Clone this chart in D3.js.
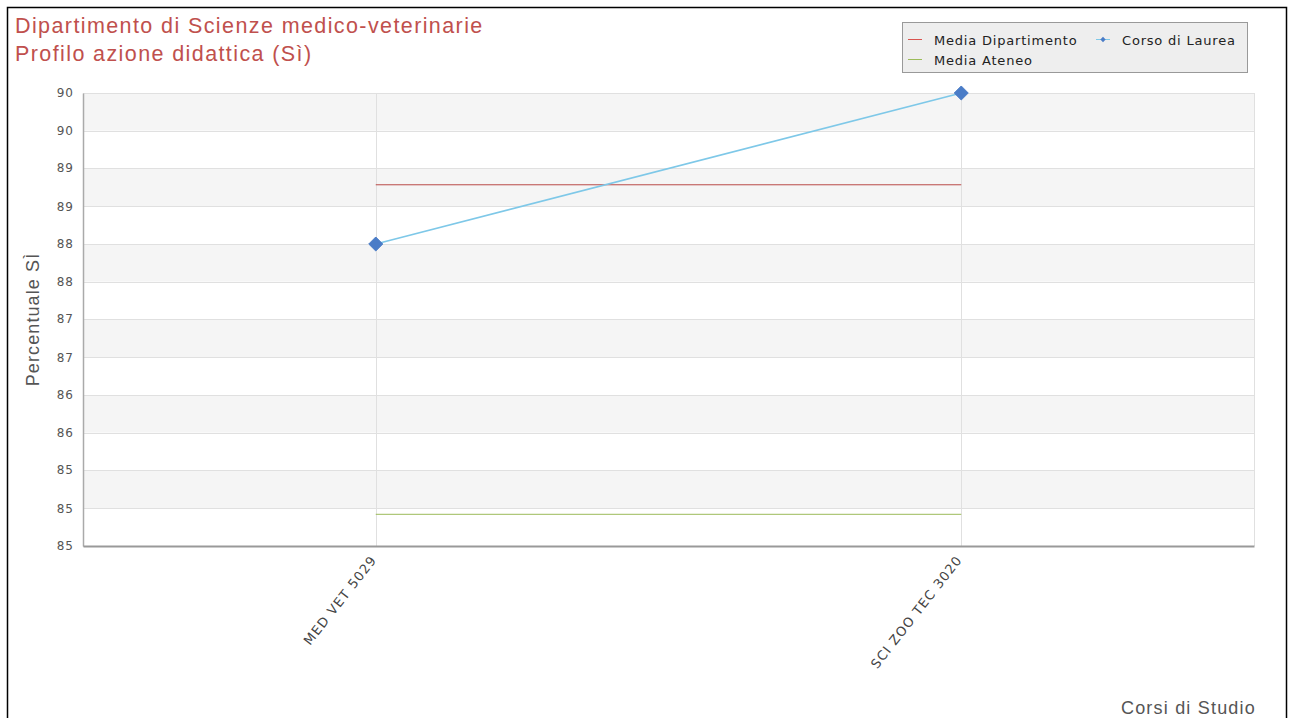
<!DOCTYPE html>
<html>
<head>
<meta charset="utf-8">
<script src="https://cdn.jsdelivr.net/npm/d3@7"></script>
<style>
  html, body { margin: 0; padding: 0; background: #fff; }
  svg { display: block; }
</style>
</head>
<body>
<script>
// Courses on the x axis
const categories = ["MED VET 5029", "SCI ZOO TEC 3020"];
// Percentage of "Sì" answers per course
const corsoValues = [88.19, 90.0];
// Reference averages, drawn as flat lines across the courses
const mediaDipartimento = [88.90, 88.90];
const mediaAteneo = [84.95, 84.95];
// Value axis range and ticks (labels shown rounded to units)
const yDomain = [84.57, 90.0];
const yTickValues = [84.57, 85.02, 85.48, 85.93, 86.38, 86.83, 87.29, 87.74, 88.19, 88.64, 89.10, 89.55, 90.0];
const yTickLabels = ["85", "85", "85", "86", "86", "87", "87", "88", "88", "89", "89", "90", "90"];

const W = 1291, H = 718;
const plot = { left: 83, right: 1254, top: 93, bottom: 546 };
const SANS = "Liberation Sans, Arial, sans-serif";

const svg = d3.select("body").append("svg").attr("width", W).attr("height", H);

// outer frame
svg.append("rect").attr("x", 7.5).attr("y", 7.5).attr("width", 1279).attr("height", 720)
  .attr("fill", "#fff").attr("stroke", "#000").attr("stroke-width", 1.5);

const x = d3.scalePoint().domain(categories).range([plot.left, plot.right]).padding(0.5);
const y = d3.scaleLinear().domain(yDomain).range([plot.bottom, plot.top]);

// alternating horizontal bands
const bands = svg.append("g");
for (let i = 1; i < yTickValues.length - 1; i += 2) {
  bands.append("rect")
    .attr("x", plot.left).attr("width", plot.right - plot.left)
    .attr("y", y(yTickValues[i + 1])).attr("height", y(yTickValues[i]) - y(yTickValues[i + 1]))
    .attr("fill", "#f5f5f5");
}

// horizontal grid lines
svg.append("g").selectAll("line").data(yTickValues).join("line")
  .attr("x1", plot.left).attr("x2", plot.right)
  .attr("y1", d => Math.round(y(d)) + 0.5).attr("y2", d => Math.round(y(d)) + 0.5)
  .attr("stroke", "#e0e0e0").attr("stroke-width", 1);

// vertical grid lines at categories
svg.append("g").selectAll("line").data(categories).join("line")
  .attr("x1", d => Math.round(x(d)) + 0.5).attr("x2", d => Math.round(x(d)) + 0.5)
  .attr("y1", plot.top).attr("y2", plot.bottom)
  .attr("stroke", "#e0e0e0").attr("stroke-width", 1);

// right border of plot area
svg.append("line").attr("x1", plot.right + 0.5).attr("x2", plot.right + 0.5)
  .attr("y1", plot.top).attr("y2", plot.bottom).attr("stroke", "#e0e0e0");

// y axis
const yAxis = d3.axisLeft(y).tickValues(yTickValues).tickSize(0).tickPadding(9)
  .tickFormat((d, i) => yTickLabels[i]);
const gy = svg.append("g").attr("transform", `translate(${plot.left},0)`).call(yAxis);
gy.select(".domain").attr("stroke", "#aaa").attr("stroke-width", 1.5);
gy.selectAll(".tick text").attr("font-family", "DejaVu Sans").attr("font-size", 12)
  .attr("letter-spacing", 1).attr("fill", "#555");

// x axis
const xAxis = d3.axisBottom(x).tickSize(0).tickPadding(0);
const gx = svg.append("g").attr("transform", `translate(0,${plot.bottom})`).call(xAxis);
gx.select(".domain").attr("stroke", "#999").attr("stroke-width", 2);
gx.selectAll(".tick text")
  .attr("font-family", "DejaVu Sans").attr("font-size", 13).attr("fill", "#444")
  .attr("letter-spacing", 1.1)
  .attr("text-anchor", "end").attr("dy", 0).attr("y", 0)
  .attr("transform", "translate(1,14) rotate(-52)");

// flat average lines
const lineGen = d3.line().x((d, i) => x(categories[i])).y(d => y(d));
svg.append("path").datum(mediaDipartimento).attr("d", lineGen)
  .attr("fill", "none").attr("stroke", "#b94a48").attr("stroke-width", 1);
svg.append("path").datum(mediaAteneo).attr("d", lineGen)
  .attr("fill", "none").attr("stroke", "#9bbb59").attr("stroke-width", 1);

// course series with diamond markers
svg.append("path").datum(corsoValues).attr("d", lineGen)
  .attr("fill", "none").attr("stroke", "#7ec8e8").attr("stroke-width", 1.5);
const diamond = d3.symbol().type(d3.symbolDiamond2).size(125);
svg.append("g").selectAll("path").data(corsoValues).join("path")
  .attr("d", diamond)
  .attr("transform", (d, i) => `translate(${x(categories[i])},${y(d)})`)
  .attr("fill", "#4a7cc7").attr("stroke", "#4a7cc7").attr("stroke-width", 1).attr("stroke-linejoin", "round");

// title
const title = svg.append("text").attr("font-family", SANS)
  .attr("font-size", 21.5).attr("letter-spacing", 1.4).attr("fill", "#c0504d");
title.append("tspan").attr("x", 15).attr("y", 33).text("Dipartimento di Scienze medico-veterinarie");
title.append("tspan").attr("x", 15).attr("y", 61).text("Profilo azione didattica (Sì)");

// axis titles
svg.append("text")
  .attr("transform", `translate(39,${(plot.top + plot.bottom) / 2}) rotate(-90)`)
  .attr("text-anchor", "middle")
  .attr("font-family", SANS).attr("font-size", 18).attr("letter-spacing", 1.1).attr("fill", "#555")
  .text("Percentuale SÌ");
svg.append("text")
  .attr("x", 1256).attr("y", 714).attr("text-anchor", "end")
  .attr("font-family", SANS).attr("font-size", 18).attr("letter-spacing", 1.2).attr("fill", "#555")
  .text("Corsi di Studio");

// legend
const legend = svg.append("g");
legend.append("rect").attr("x", 902.5).attr("y", 22.5).attr("width", 345).attr("height", 50)
  .attr("fill", "#eeeeee").attr("stroke", "#999");
const legendItems = [
  { label: "Media Dipartimento", color: "#d9534f", x: 908, y: 40, marker: false },
  { label: "Corso di Laurea", color: "#7ec8e8", x: 1096, y: 40, marker: true },
  { label: "Media Ateneo", color: "#9bbb59", x: 908, y: 60, marker: false }
];
legendItems.forEach(it => {
  legend.append("line").attr("x1", it.x).attr("x2", it.x + 14)
    .attr("y1", it.y - 0.5).attr("y2", it.y - 0.5).attr("stroke", it.color).attr("stroke-width", 1);
  if (it.marker) {
    legend.append("path").attr("d", d3.symbol().type(d3.symbolDiamond2).size(18))
      .attr("transform", `translate(${it.x + 7},${it.y - 0.5})`).attr("fill", "#4a7cc7");
  }
  legend.append("text").attr("x", it.x + 26).attr("y", it.y + 4.5)
    .attr("font-family", "DejaVu Sans").attr("font-size", 13).attr("letter-spacing", 0.8).attr("fill", "#222")
    .text(it.label);
});
</script>
</body>
</html>
